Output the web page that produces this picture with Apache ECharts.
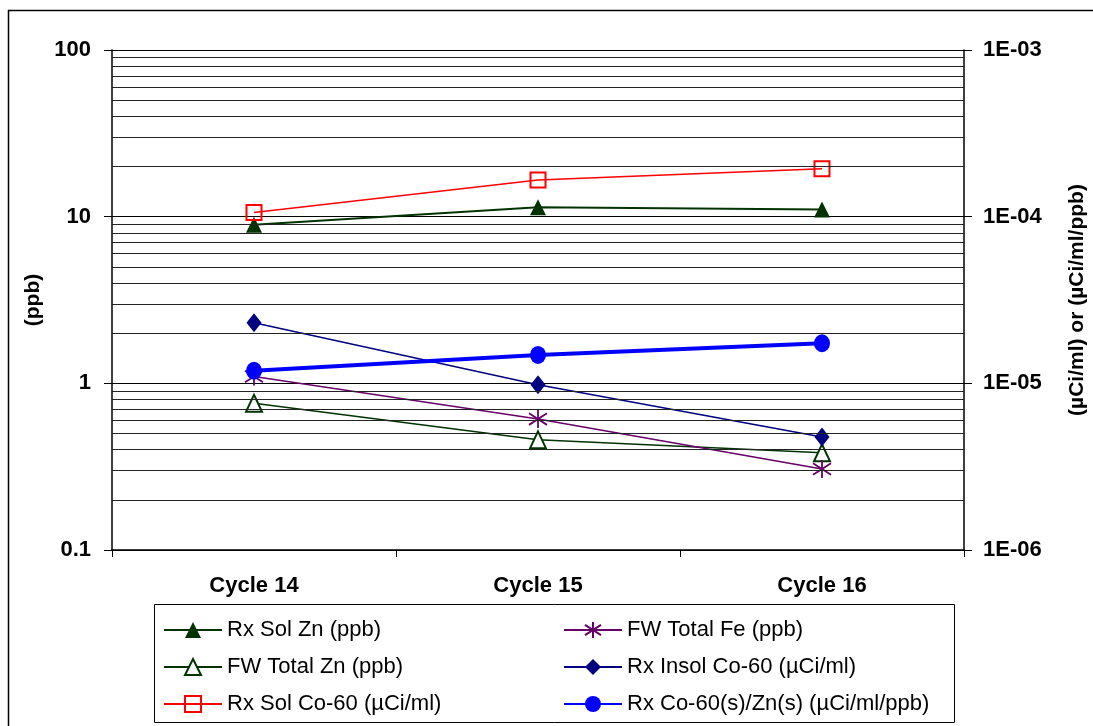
<!DOCTYPE html>
<html>
<head>
<meta charset="utf-8">
<title>Zn / Co-60 by cycle</title>
<script src="https://cdn.jsdelivr.net/npm/echarts@6/dist/echarts.min.js"></script>
<style>
  html, body { margin: 0; padding: 0; background: #fff; }
  #chart { width: 1093px; height: 726px; }
</style>
</head>
<body>
<div id="chart"></div>
<script>
// categories and values
const categories = ['Cycle 14', 'Cycle 15', 'Cycle 16'];

// left axis (ppb)
const rxSolZn = [8.95, 11.4, 11.05];
const fwTotalZn = [0.76, 0.458, 0.383];
const fwTotalFe = [1.10, 0.61, 0.306];

// right axis (uCi/ml or uCi/ml/ppb)
const rxSolCo60 = [1.06e-4, 1.66e-4, 1.94e-4];
const rxInsolCo60 = [2.31e-5, 0.98e-5, 0.477e-5];
const rxCoZnRatio = [1.19e-5, 1.48e-5, 1.74e-5];

// minor gridlines on the left log axis
const minorGrid = [
    0.2, 0.3, 0.4, 0.5, 0.6, 0.7, 0.8, 0.9,
    2, 3, 4, 5, 6, 7, 8, 9,
    20, 30, 40, 50, 60, 70, 80, 90
];

const leftLegend = ['Rx Sol Zn (ppb)', 'FW Total Zn (ppb)', 'Rx Sol Co-60 (µCi/ml)'];
const rightLegend = ['FW Total Fe (ppb)', 'Rx Insol Co-60 (µCi/ml)', 'Rx Co-60(s)/Zn(s) (µCi/ml/ppb)'];

const FONT = '"Liberation Sans", Arial, sans-serif';
const asterisk = 'path://M5,0L5,10M1.2,1.8L8.8,8.2M1.2,8.2L8.8,1.8';

const myChart = echarts.init(document.getElementById('chart'));

const legendBase = {
    orient: 'vertical',
    top: 614,
    height: 112,
    itemWidth: 58,
    itemHeight: 20,
    itemGap: 15,
    selectedMode: false,
    textStyle: { fontFamily: FONT, fontSize: 22, color: '#000' }
};

const option = {
    animation: false,
    backgroundColor: '#fff',
    textStyle: { fontFamily: FONT },
    grid: { left: 112, right: 129, top: 50, bottom: 176, outerBoundsMode: 'none' },
    graphic: [
        {
            type: 'rect',
            shape: { x: 8.5, y: 10.5, width: 1100, height: 730 },
            style: { fill: 'none', stroke: '#000', lineWidth: 1.5 },
            silent: true
        },
        {
            type: 'rect',
            shape: { x: 154.5, y: 604.5, width: 800, height: 118 },
            style: { fill: 'none', stroke: '#000', lineWidth: 1 },
            silent: true
        }
    ],
    legend: [
        Object.assign({ left: 158, data: leftLegend }, legendBase),
        Object.assign({ left: 558, data: rightLegend }, legendBase)
    ],
    xAxis: {
        type: 'category',
        data: categories,
        boundaryGap: true,
        axisLine: { lineStyle: { color: '#000', width: 1.5 } },
        axisTick: { show: true, length: 7, lineStyle: { color: '#000' } },
        axisLabel: { color: '#000', fontSize: 22, fontWeight: 'bold', margin: 25 }
    },
    yAxis: [
        {
            type: 'log',
            logBase: 10,
            min: 0.1,
            max: 100,
            name: '(ppb)',
            nameLocation: 'middle',
            nameRotate: 90,
            nameGap: 67,
            nameTextStyle: { color: '#000', fontSize: 21, fontWeight: 'bold' },
            axisLine: { show: true, lineStyle: { color: '#000', width: 1.5 } },
            axisTick: { show: true, length: 8, lineStyle: { color: '#000' } },
            axisLabel: { color: '#000', fontSize: 22, fontWeight: 'bold', margin: 21 },
            splitLine: { show: true, lineStyle: { color: '#000', width: 1 } }
        },
        {
            type: 'log',
            logBase: 10,
            min: 1e-6,
            max: 1e-3,
            position: 'right',
            name: '(µCi/ml) or (µCi/ml/ppb)',
            nameLocation: 'middle',
            nameRotate: 90,
            nameGap: 103,
            nameTextStyle: { color: '#000', fontSize: 21, fontWeight: 'bold' },
            axisLine: { show: true, lineStyle: { color: '#000', width: 1.5 } },
            axisTick: { show: true, length: 8, lineStyle: { color: '#000' } },
            axisLabel: {
                color: '#000', fontSize: 22, fontWeight: 'bold', margin: 19,
                formatter: (v) => {
                    const e = Math.round(Math.log10(v));
                    return '1E-' + String(-e).padStart(2, '0');
                }
            },
            splitLine: { show: false }
        }
    ],
    series: [
        {
            // minor gridlines
            type: 'line',
            yAxisIndex: 0,
            data: [],
            z: 1,
            markLine: {
                silent: true,
                symbol: ['none', 'none'],
                label: { show: false },
                lineStyle: { color: '#222', width: 1, type: 'solid' },
                data: minorGrid.map((v) => ({ yAxis: v }))
            }
        },
        {
            name: 'Rx Sol Zn (ppb)',
            type: 'line',
            yAxisIndex: 0,
            data: rxSolZn,
            symbol: 'triangle',
            symbolSize: [16, 16],
            z: 3,
            lineStyle: { color: '#003300', width: 2 },
            itemStyle: { color: '#003300' }
        },
        {
            name: 'FW Total Zn (ppb)',
            type: 'line',
            yAxisIndex: 0,
            data: fwTotalZn,
            symbol: 'triangle',
            symbolSize: [16, 17],
            z: 3,
            lineStyle: { color: '#003300', width: 1.5 },
            itemStyle: { color: '#fff', borderColor: '#003300', borderWidth: 2 }
        },
        {
            name: 'Rx Sol Co-60 (µCi/ml)',
            type: 'line',
            yAxisIndex: 1,
            data: rxSolCo60,
            symbol: 'rect',
            symbolSize: 15,
            z: 3,
            lineStyle: { color: '#ff0000', width: 1.5 },
            itemStyle: { color: 'rgba(255,255,255,0)', borderColor: '#ff0000', borderWidth: 2 }
        },
        {
            name: 'FW Total Fe (ppb)',
            type: 'line',
            yAxisIndex: 0,
            data: fwTotalFe,
            symbol: asterisk,
            symbolSize: 18,
            z: 3,
            lineStyle: { color: '#660066', width: 1.5 },
            itemStyle: { color: 'rgba(0,0,0,0)', borderColor: '#660066', borderWidth: 1.8 }
        },
        {
            name: 'Rx Insol Co-60 (µCi/ml)',
            type: 'line',
            yAxisIndex: 1,
            data: rxInsolCo60,
            symbol: 'diamond',
            symbolSize: [15, 19],
            z: 3,
            lineStyle: { color: '#000080', width: 1.5 },
            itemStyle: { color: '#000080' }
        },
        {
            name: 'Rx Co-60(s)/Zn(s) (µCi/ml/ppb)',
            type: 'line',
            yAxisIndex: 1,
            data: rxCoZnRatio,
            symbol: 'circle',
            symbolSize: [16, 18],
            z: 4,
            lineStyle: { color: '#0000ff', width: 4 },
            itemStyle: { color: '#0000ff' }
        }
    ]
};

myChart.setOption(option);
window.addEventListener('resize', () => myChart.resize());
</script>
</body>
</html>
